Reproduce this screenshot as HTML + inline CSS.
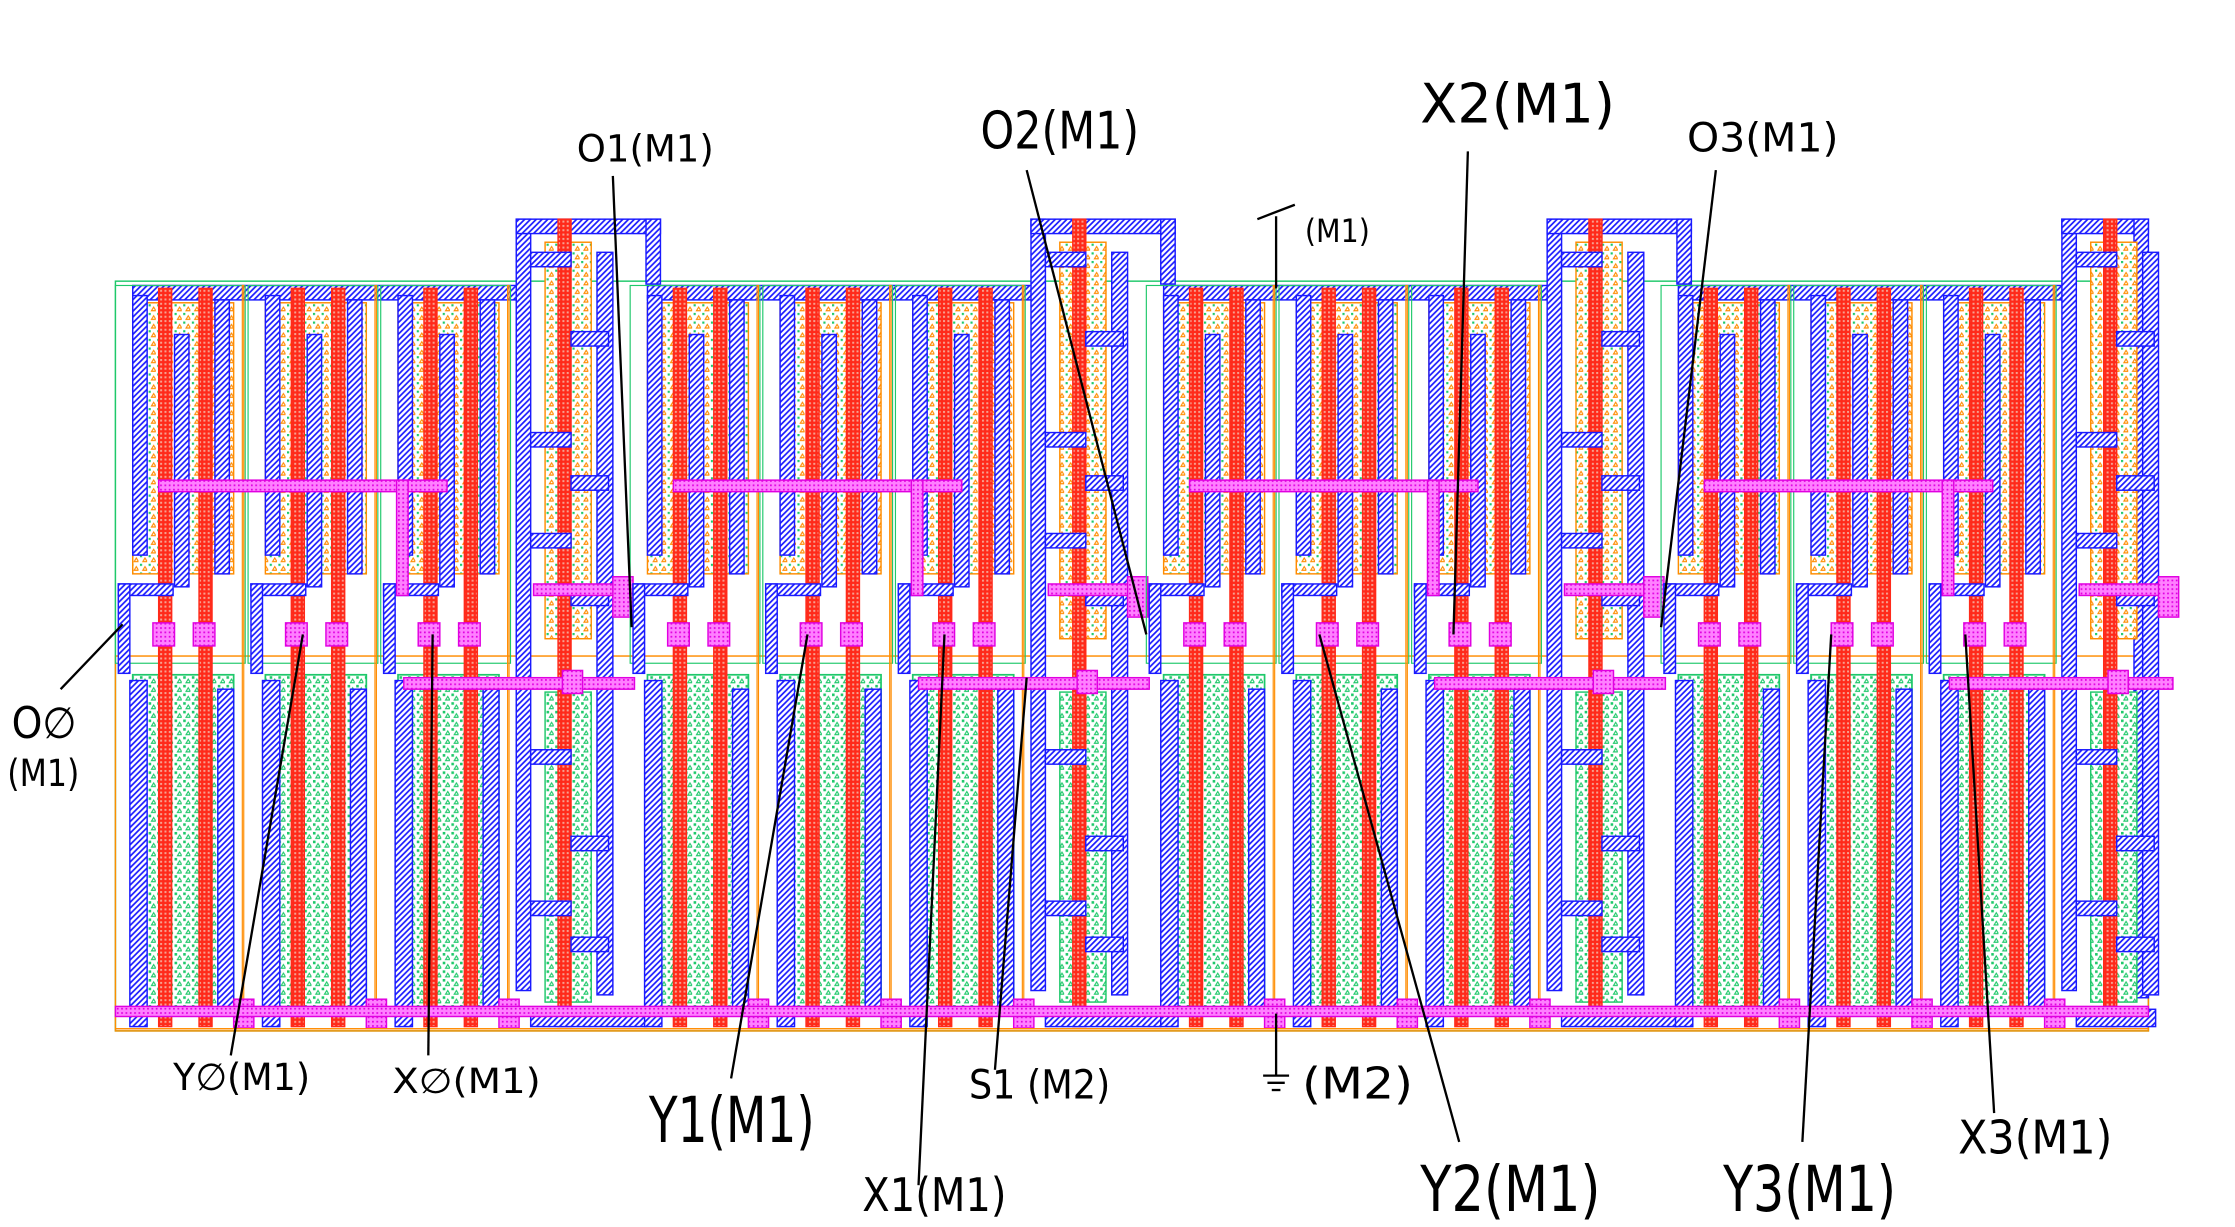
<!DOCTYPE html>
<html><head><meta charset="utf-8"><style>
html,body{margin:0;padding:0;background:#fff;}
svg{display:block}
text{font-family:"DejaVu Sans","Liberation Sans",sans-serif;fill:#000;}
</style></head><body>
<svg id="lay" xmlns="http://www.w3.org/2000/svg" width="2235" height="1227" viewBox="0 0 1550 851">
<defs>
<pattern id="hb" width="4" height="4" patternUnits="userSpaceOnUse"><rect width="4" height="4" fill="#fff"/><path d="M0,4 L4,0 M-1,1 L1,-1 M3,5 L5,3" stroke="#1a1aff" stroke-width="1.2"/></pattern>
<pattern id="rx" width="3" height="3" patternUnits="userSpaceOnUse"><rect width="3" height="3" fill="#ff2a1a"/><rect width="1.4" height="1.4" fill="#f7a090"/></pattern>
<pattern id="gd" width="6" height="6" patternUnits="userSpaceOnUse"><rect width="6" height="6" fill="#fff"/><rect x="1" y="1" width="1.8" height="1.8" fill="#1ec86a"/><path d="M3,5.5 L4.5,3 L6,5.5Z" fill="none" stroke="#1ec86a" stroke-width="0.8"/></pattern>
<pattern id="pd" width="6" height="6" patternUnits="userSpaceOnUse"><rect width="6" height="6" fill="#fff"/><rect x="1" y="1" width="1.5" height="1.5" fill="#1ec86a"/><path d="M3,5.5 L4.5,3 L6,5.5Z" fill="none" stroke="#ff8c00" stroke-width="0.8"/></pattern>
<pattern id="mg" width="3" height="3" patternUnits="userSpaceOnUse"><rect width="3" height="3" fill="#ff80ff"/><rect width="1.2" height="1.2" fill="#e000e0"/></pattern>
</defs>
<g id="cells"></g>
<g id="labels"></g>
</svg>
<script>
const groupX = [80, 437, 795, 1152];
const cellOffsets = [0, 92, 184];
const labelTexts = ["O1(M1)","O2(M1)","X2(M1)","O3(M1)","(M1)","O\u2205","(M1)","Y\u2205(M1)","X\u2205(M1)","Y1(M1)","X1(M1)","S1 (M2)","(M2)","Y2(M1)","Y3(M1)","X3(M1)"];
const labelX = [400,680,985,1170,905,8,5,120,272,450,598,672,903,985,1195,1358];
const labelY = [112,103,85,105,168,512,545,756,758,792,840,762,762,840,840,800];
const labelSize = [26,36,38,28,22,30,26,26,24,44,32,28,30,44,44,32];
const labelWidth = [95,110,135,105,45,45,50,95,103,115,100,98,77,125,120,107];
const leaderX1 = [425,712,1018,1190,885,42,160,297,507,637,690,1012,1250,1383];
const leaderY1 = [122,118,105,118,150,478,732,732,748,822,742,792,792,772];
const leaderX2 = [438,795,1008,1152,885,85,210,300,560,655,712,915,1270,1363];
const leaderY2 = [435,440,440,435,200,433,440,440,440,440,470,440,440,440];

const NS="http://www.w3.org/2000/svg";
const cg=document.getElementById('cells');
function R(x,y,w,h,fill,stroke,sw,name){
  const r=document.createElementNS(NS,'rect');
  r.setAttribute('x',x);r.setAttribute('y',y);r.setAttribute('width',w);r.setAttribute('height',h);
  r.setAttribute('fill',fill||'none');
  if(stroke){r.setAttribute('stroke',stroke);r.setAttribute('stroke-width',sw||1);}
  
  
  cg.appendChild(r);return r;
}
R(80,195,1410,520,'none','#1ec86a',1,'cell-boundary');
R(80,455,1410,260,'none','#ff8c00',1,'nwell-boundary');

groupX.forEach((x0,g)=>{
  const last = g===groupX.length-1;
  R(x0+12,198,270,10,'url(#hb)','#1a1aff',1,'top-rail');
  cellOffsets.forEach((o,i)=>{
    const c=x0+o;
    R(c,198,90,262,'none','#1ec86a',0.8,'pmos-well');
    R(c+12,210,70,188,'url(#pd)','#ff8c00',1,'pmos-diffusion');
    R(c+12,468,70,234,'url(#gd)','#1ec86a',1.2,'nmos-diffusion');
    R(c+12,205,10,180,'url(#hb)','#1a1aff',1,'pmos-metal-left');
    R(c+41,232,10,175,'url(#hb)','#1a1aff',1,'pmos-metal-mid');
    R(c+69,208,10,190,'url(#hb)','#1a1aff',1,'pmos-metal-right');
    R(c+10,472,12,240,'url(#hb)','#1a1aff',1,'nmos-metal-left');
    R(c+71,478,11,222,'url(#hb)','#1a1aff',1,'nmos-metal-right');
    R(c+30,200,9,512,'url(#rx)','#ff2a1a',1,'poly-gate-a');
    R(c+58,200,9,512,'url(#rx)','#ff2a1a',1,'poly-gate-b');
    R(c+2,405,38,8,'url(#hb)','#1a1aff',1,'contact-strap');
    R(c+2,405,8,62,'url(#hb)','#1a1aff',1,'contact-strap-v');
    R(c+26,432,15,16,'url(#mg)','#e000e0',1,'via-a');
    R(c+54,432,15,16,'url(#mg)','#e000e0',1,'via-b');
    R(c+88,198,1,515,'none','#ff8c00',0.8,'cell-edge');
  });
  const t=x0+278;
  const tw = last ? 60 : 100;
  R(t,152,10,535,'url(#hb)','#1a1aff',1,'buffer-metal-left');
  R(t,152,tw,10,'url(#hb)','#1a1aff',1,'buffer-top-bar');
  R(t+tw-10,152,10,last?540:45,'url(#hb)','#1a1aff',1,'buffer-top-right');
  R(t+20,168,32,275,'url(#pd)','#ff8c00',1,'buffer-pdiff');
  R(t+20,480,32,215,'url(#gd)','#1ec86a',1,'buffer-ndiff');
  R(t+29,152,9,560,'url(#rx)','#ff2a1a',1,'buffer-poly');
  R(t+56,175,11,515,'url(#hb)','#1a1aff',1,'buffer-metal-right');
  [175,230,300,330,370,410,520,580,625,650].forEach((yy,k)=>{
    R(k%2?t+38:t+10,yy,k%2?26:28,10,'url(#hb)','#1a1aff',1,'buffer-contact');
  });
  R(t+10,700,last?55:80,12,'url(#hb)','#1a1aff',1,'buffer-bottom-bar');
  R(x0+30,333,200,8,'url(#mg)','#e000e0',1,'m2-route-top');
  R(x0+195,333,8,80,'url(#mg)','#e000e0',1,'m2-route-drop');
  R(x0+200,470,last?155:160,8,'url(#mg)','#e000e0',1,'m2-route-mid');
  R(x0+290,405,60,8,'url(#mg)','#e000e0',1,'m2-route-buf');
  R(x0+345,400,14,28,'url(#mg)','#e000e0',1,'m2-via-buf');
  R(x0+310,465,14,16,'url(#mg)','#e000e0',1,'m2-via-mid');
  [0,92,184].forEach(o=>R(x0+o+82,693,14,20,'url(#mg)','#e000e0',1,'gnd-via'));
});
R(80,698,1410,7,'url(#mg)','#e000e0',1,'gnd-rail-m2');
R(80,713,1410,1,'#ff8c00',null,0,'bottom-edge');

const lg=document.getElementById('labels');
for(let i=0;i<leaderX1.length;i++){
  const l=document.createElementNS(NS,'line');
  l.setAttribute('x1',leaderX1[i]);l.setAttribute('y1',leaderY1[i]);
  l.setAttribute('x2',leaderX2[i]);l.setAttribute('y2',leaderY2[i]);
  l.setAttribute('stroke','#000');l.setAttribute('stroke-width',1.6);
  
  
  lg.appendChild(l);
}
[[872,152,898,142],[876,746,894,746],[879,751,891,751],[882,756,888,756],[885,703,885,746]].forEach(p=>{
  const l=document.createElementNS(NS,'line');
  l.setAttribute('x1',p[0]);l.setAttribute('y1',p[1]);l.setAttribute('x2',p[2]);l.setAttribute('y2',p[3]);
  l.setAttribute('stroke','#000');l.setAttribute('stroke-width',1.6);
  
  
  lg.appendChild(l);
});
for(let i=0;i<labelTexts.length;i++){
  const t=document.createElementNS(NS,'text');
  t.setAttribute('x',labelX[i]);t.setAttribute('y',labelY[i]);
  t.setAttribute('font-size',labelSize[i]);
  t.setAttribute('textLength',labelWidth[i]);
  t.setAttribute('lengthAdjust','spacingAndGlyphs');
  
  
  t.textContent=labelTexts[i];
  lg.appendChild(t);
}
</script>
</body></html>
